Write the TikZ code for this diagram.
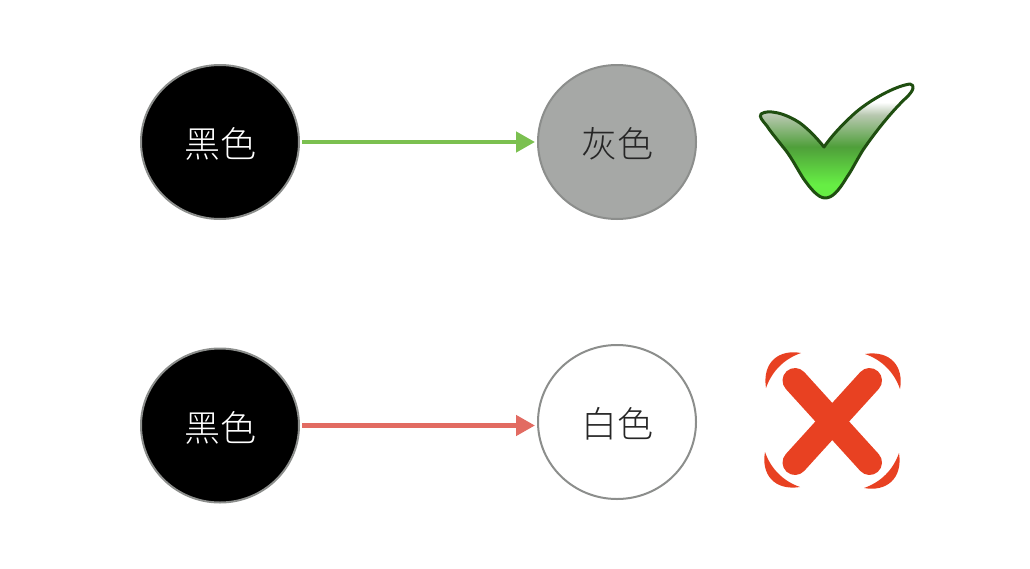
\documentclass[tikz,border=0pt]{standalone}
\usepackage{fontspec}
\setmainfont{Noto Sans CJK SC Light}
\usetikzlibrary{arrows.meta,shapes.geometric}
\definecolor{dotline}{HTML}{8C8E8C}
\definecolor{grayfill}{HTML}{A6A8A6}
\definecolor{goodline}{HTML}{7BC050}
\definecolor{badline}{HTML}{E26B62}
\definecolor{tickline}{HTML}{1F4E10}
\definecolor{tickgray}{HTML}{B8C8B0}
\definecolor{tickmid}{HTML}{4F9F3A}
\definecolor{tickend}{HTML}{66EE44}
\definecolor{crossred}{HTML}{E84122}
\pgfdeclareverticalshading{tickshade}{100bp}{color(0bp)=(tickend); color(31bp)=(tickend); color(47.5bp)=(tickmid); color(61.5bp)=(tickgray); color(67bp)=(white); color(100bp)=(white)}
\begin{document}
\begin{tikzpicture}[
  x=1pt, y=-1pt,
  dot/.style={ellipse, draw=dotline, line width=2pt, minimum width=158pt, minimum height=154pt, inner sep=0pt, text height=34pt, text depth=2.6pt, font=\fontsize{36pt}{36pt}\selectfont},
  blackdot/.style={dot, fill=black, text=white},
  graydot/.style={dot, fill=grayfill, text=black!85},
  whitedot/.style={dot, fill=white, text=black!85},
  link/.style={-{Triangle[length=19pt,width=20pt]}, line width=4.5pt, shorten <=2pt, shorten >=2pt},
  crossarm/.style={line width=25pt, line cap=round, crossred}
]
\useasboundingbox (0,0) rectangle (1030,568);

\node[blackdot] (blacka) at (220,142) {黑色};
\node[graydot] (gray) at (617,142) {灰色};
\node[blackdot] (blackb) at (220,425.5) {黑色};
\node[whitedot] (whiteb) at (617,422) {白色};

\draw[link, goodline] (blacka) -- (gray);
\draw[link, badline] (blackb) -- (blackb -| whiteb.west);

% tick
\shade[draw=tickline, line width=3pt, line join=round, shading=tickshade]
  (761,114) .. controls (768,109) and (785,113) .. (800,123)
  .. controls (808,129) and (816,137) .. (824,147)
  .. controls (833,134) and (845,122) .. (855,113)
  .. controls (870,100) and (895,86) .. (910,84)
  .. controls (915,85) and (914,90) .. (907,97)
  .. controls (895,108) and (878,128) .. (863,150)
  .. controls (855,163) and (852,170) .. (847,177)
  .. controls (838,192) and (832,198) .. (825,198)
  .. controls (818,198) and (810,188) .. (803,178)
  .. controls (795,165) and (790,155) .. (783,147)
  .. controls (776,138) and (770,131) .. (767,126)
  .. controls (762,120) and (759,117) .. (761,114) -- cycle;

% cross
\draw[crossarm] (795,380.5) -- (869.5,462.5);
\draw[crossarm] (869.5,380.5) -- (795,462.5);
\foreach \ang in {0,90,180,270} {
  \fill[crossred, rotate around={\ang:(832.5,420.5)}]
    (801,353) .. controls (779,349) and (762,362) .. (766,388)
    .. controls (772,371) and (784,359) .. (801,353) -- cycle;
}
\end{tikzpicture}
\end{document}
